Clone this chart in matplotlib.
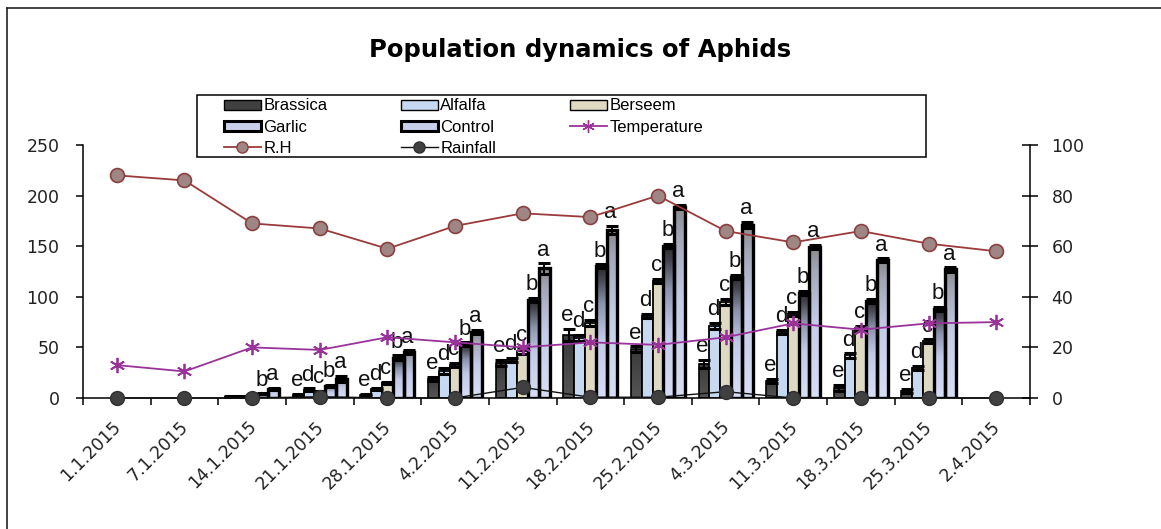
import numpy as np
import matplotlib
matplotlib.use('Agg')
import matplotlib.pyplot as plt
from matplotlib.patches import Patch, Rectangle
from matplotlib.lines import Line2D
from matplotlib.colors import LinearSegmentedColormap
from matplotlib.transforms import ScaledTranslation

# ---------------- data ----------------
dates = ['1.1.2015', '7.1.2015', '14.1.2015', '21.1.2015', '28.1.2015', '4.2.2015',
         '11.2.2015', '18.2.2015', '25.2.2015', '4.3.2015', '11.3.2015', '18.3.2015',
         '25.3.2015', '2.4.2015']

brassica = [0, 0, 1, 3, 3, 19, 35, 62, 48, 34, 17, 10, 7, 0]
alfalfa = [0, 0, 1, 8, 9, 27, 38, 59, 81, 71, 65, 42, 30, 0]
berseem = [0, 0, 2, 6, 15, 33, 46, 74, 116, 95, 83, 69, 56, 0]
garlic = [0, 0, 4, 12, 40, 53, 97, 130, 150, 120, 104, 96, 88, 0]
control = [0, 0, 9, 19, 45, 65, 128, 166, 189, 171, 149, 136, 127, 0]

brassica_err = [0, 0, 0.5, 1, 1, 2, 3, 6, 3, 4, 2, 3, 2, 0]
alfalfa_err = [0, 0, 0.5, 1.5, 1, 3, 2, 3, 2, 3, 2, 2, 2, 0]
berseem_err = [0, 0, 0.5, 1, 1, 2, 3, 3, 2, 3, 2, 2, 2, 0]
garlic_err = [0, 0, 0.5, 1, 2, 2, 2, 2, 2, 2, 2, 2, 2, 0]
control_err = [0, 0, 1, 3, 2, 2, 5, 4, 2, 3, 2, 2, 2, 0]

# significance letters per date for (Brassica, Alfalfa, Berseem, Garlic, Control)
letters = ['     ', '     ', '   ba', 'edcba', 'edcba', 'edcba', 'edcba', 'edcba',
           'edcba', 'edcba', 'edcba', 'edcba', 'edcba', '     ']

rh = [88, 86, 69, 67, 59, 68, 73, 71.5, 80, 66, 61.5, 66, 61, 58]
temperature = [13, 10.5, 20, 19, 24, 22, 20, 22, 21, 24, 29.5, 27, 29.5, 30]
rainfall = [0, 0, 0, 0.5, 0, 0, 4.2, 0.3, 0.3, 2.5, 0, 0, 0, 0]

series_names = ['Brassica', 'Alfalfa', 'Berseem', 'Garlic', 'Control']

# ---------------- figure ----------------
W, H = 1161, 529
fig = plt.figure(figsize=(W / 100, H / 100), dpi=100)
fig.patch.set_facecolor('white')

left, right, bottom, top = 83, 1030, 398, 145
ax = fig.add_axes([left / W, 1 - bottom / H, (right - left) / W, (bottom - top) / H])

n = len(dates)
x = np.arange(n)
bw = 0.16
offsets = (np.arange(5) - 2) * bw

vals = [brassica, alfalfa, berseem, garlic, control]
errs = [brassica_err, alfalfa_err, berseem_err, garlic_err, control_err]

garlic_cmap = LinearSegmentedColormap.from_list(
    'g', [(0, '#d8def4'), (0.45, '#c2cae8'), (0.72, '#8a92ac'), (0.9, '#45464e'), (1, '#2a2a2a')])
control_cmap = LinearSegmentedColormap.from_list(
    'c', [(0, '#d8def4'), (0.5, '#c4cce8'), (0.85, '#a2a6b6'), (1, '#8a8a8a')])
brassica_cmap = LinearSegmentedColormap.from_list(
    'b', [(0, '#555555'), (1, '#3a3a3a')])

styles = [
    dict(face=None, cmap=brassica_cmap, lw=1.2),
    dict(face='#c6d9f0', cmap=None, lw=1.3),
    dict(face='#ddd9c3', cmap=None, lw=1.3),
    dict(face=None, cmap=garlic_cmap, lw=2.4),
    dict(face=None, cmap=control_cmap, lw=2.4),
]

grad = np.linspace(0, 1, 256).reshape(-1, 1)
for s in range(5):
    st = styles[s]
    xs = x + offsets[s]
    for i in range(n):
        v = vals[s][i]
        if v <= 0:
            continue
        x0 = xs[i] - bw / 2
        if st['cmap'] is not None:
            ax.imshow(grad, extent=[x0, x0 + bw, 0, v], origin='lower', aspect='auto',
                      cmap=st['cmap'], zorder=2, interpolation='bilinear')
            ax.add_patch(Rectangle((x0, 0), bw, v, facecolor='none', edgecolor='black',
                                   lw=st['lw'], zorder=3))
        else:
            ax.add_patch(Rectangle((x0, 0), bw, v, facecolor=st['face'], edgecolor='black',
                                   lw=st['lw'], zorder=3))
    e = np.array(errs[s])
    v = np.array(vals[s])
    m = v > 0
    ax.errorbar(xs[m], v[m], yerr=e[m], fmt='none', ecolor='black', elinewidth=1.5,
                capsize=4, capthick=2.2, zorder=4)
    for i in range(n):
        L = letters[i][s]
        if L.strip():
            ax.annotate(L, (xs[i], vals[s][i] + errs[s][i]), xytext=(-1, 2),
                        textcoords='offset points', ha='center', va='bottom',
                        fontsize=16, family='Liberation Sans', color='#111111', zorder=5)

ax.set_xlim(-0.5, n - 0.5)
ax.set_ylim(0, 250)
ax.set_yticks([0, 50, 100, 150, 200, 250])
ax.spines['top'].set_visible(False)
ax.spines['right'].set_visible(False)
ax.spines['left'].set_linewidth(1.1)
ax.spines['bottom'].set_linewidth(1.1)
ax.tick_params(axis='y', direction='out', length=5, width=1.1, pad=12,
               labelsize=12.5, labelcolor='#222222')

ax.set_xticks(x)
ax.set_xticks(np.arange(n + 1) - 0.5, minor=True)
ax.tick_params(axis='x', which='major', length=0, pad=14)
ax.tick_params(axis='x', which='minor', direction='out', length=5, width=1.1)
ax.set_xticklabels(dates, rotation=45, ha='right', rotation_mode='anchor',
                   fontsize=12.5, color='#222222')
for lab in ax.get_xticklabels():
    lab.set_transform(lab.get_transform() + ScaledTranslation(-5 / 100, 0, fig.dpi_scale_trans))

# ---------------- secondary axis ----------------
ax2 = ax.twinx()
ax2.set_ylim(0, 100)
ax2.set_yticks([0, 20, 40, 60, 80, 100])
for sp in ['top', 'left', 'bottom']:
    ax2.spines[sp].set_visible(False)
ax2.spines['right'].set_linewidth(1.1)
ax2.tick_params(axis='y', direction='inout', length=11, width=1.1, pad=10,
                labelsize=12.5, labelcolor='#222222')

ax2.plot(x, rh, color='#9b3a3a', lw=1.3, marker='o', markersize=10,
         markerfacecolor='#a08585', markeredgecolor='#8b4040', markeredgewidth=1.2,
         clip_on=False, zorder=6)
ax2.plot(x, temperature, color='#993399', lw=1.3, marker=(6, 2, 0), markersize=11,
         markeredgecolor='#993399', markeredgewidth=1.3, clip_on=False, zorder=6)
ax2.plot(x, rainfall, color='#111111', lw=1.0, marker='o', markersize=10,
         markerfacecolor='#404040', markeredgecolor='#303030', clip_on=False, zorder=7)

# ---------------- title ----------------
fig.text(0.5, 1 - 50 / H, 'Population dynamics of Aphids', ha='center', va='center',
         fontsize=17.5, fontweight='bold', family='DejaVu Sans')

# ---------------- legend ----------------
h_bras = Patch(facecolor='#404040', edgecolor='black', lw=1.0)
h_alf = Patch(facecolor='#c6d9f0', edgecolor='black', lw=1.0)
h_ber = Patch(facecolor='#ddd9c3', edgecolor='black', lw=1.0)
h_gar = Patch(facecolor='#c8d0ea', edgecolor='black', lw=2.2)
h_con = Patch(facecolor='#c8d0ea', edgecolor='black', lw=2.2)
h_tmp = Line2D([], [], color='#993399', lw=1.3, marker=(6, 2, 0), markersize=9,
               markeredgecolor='#993399')
h_rh = Line2D([], [], color='#9b3a3a', lw=1.3, marker='o', markersize=8,
              markerfacecolor='#a08585', markeredgecolor='#8b4040')
h_rain = Line2D([], [], color='#111111', lw=1.0, marker='o', markersize=8,
                markerfacecolor='#404040', markeredgecolor='#303030')
handles = [h_bras, h_gar, h_rh, h_alf, h_con, h_rain, h_ber, h_tmp]
labels = ['Brassica', 'Garlic', 'R.H', 'Alfalfa', 'Control', 'Rainfall', 'Berseem', 'Temperature']
leg = fig.legend(handles, labels, ncol=3, loc='upper left',
                 bbox_to_anchor=(224 / W, 1 - 98.5 / H), frameon=False,
                 prop={'family': 'Liberation Sans', 'size': 12},
                 handlelength=2.2, handleheight=0.55, handletextpad=0.15,
                 labelspacing=0.37, columnspacing=4.43, borderpad=0, borderaxespad=0)

fig.add_artist(Rectangle((197 / W, 1 - 157 / H), (926 - 197) / W, (157 - 95) / H,
                         transform=fig.transFigure, fill=False, edgecolor='black', lw=1.1))

# outer frame (cut off at right/bottom in the reference)
fig.add_artist(Line2D([7 / W, 7 / W], [0, 1 - 8 / H], transform=fig.transFigure,
                      color='#222222', lw=1.2))
fig.add_artist(Line2D([7 / W, 1], [1 - 8 / H, 1 - 8 / H], transform=fig.transFigure,
                      color='#222222', lw=1.2))

fig.savefig('out.png', dpi=100)
